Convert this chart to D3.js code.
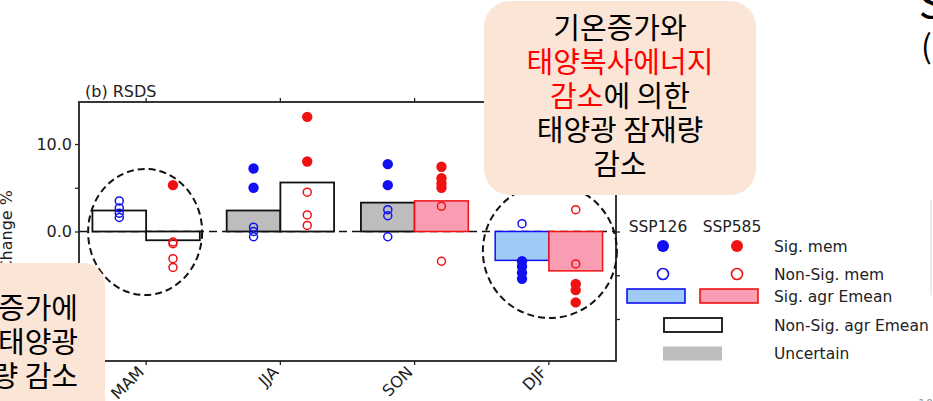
<!DOCTYPE html>
<html><head><meta charset="utf-8">
<script src="https://cdn.jsdelivr.net/npm/d3@7"></script>
<style>
html,body{margin:0;padding:0;background:#fff;overflow:hidden}
svg{display:block}
</style></head><body>
<svg id="chart" width="933" height="401"></svg>
<script>
// Seasonal RSDS change (%) — ensemble means and individual members
const seasons = ["MAM", "JJA", "SON", "DJF"];
const emean126 = [2.4, 2.4, 3.3, -3.3];
const emean585 = [-1.0, 5.6, 3.5, -4.5];
const agree126 = ["nonsig", "uncertain", "uncertain", "sig"];
const agree585 = ["nonsig", "nonsig", "sig", "sig"];
const sigMem126 = [[], [7.2, 5.0], [7.7, 5.3], [-3.4, -4.0, -4.7, -5.4]];
const nonSigMem126 = [[3.5, 2.7, 2.1, 1.6], [0.5, 0.0, -0.6], [2.5, 1.8, -0.6], [0.9]];
const sigMem585 = [[5.3], [13.1, 8.0], [7.4, 6.1, 5.5, 5.0], [-6.0, -6.7, -8.1]];
const nonSigMem585 = [[-1.2, -1.4, -3.1, -4.1], [4.5, 1.9, 0.7], [2.9, -3.4], [2.5, -3.7]];
const yTicks = [-10, -5, 0, 5, 10];
const yLabelled = [0, 10];
const legendRows = ["Sig. mem", "Non-Sig. mem", "Sig. agr Emean", "Non-Sig. agr Emean", "Uncertain"];
const scenarios = ["SSP126", "SSP585"];

const BLUE = "#1010f2", RED = "#f01212";
const barStyle = {
  sig: [{fill: "#9ecbf6", stroke: BLUE}, {fill: "#f99db2", stroke: RED}],
  nonsig: [{fill: "#fff", stroke: "#111"}, {fill: "#fff", stroke: "#111"}],
  uncertain: [{fill: "#bdbdbd", stroke: "#111"}, {fill: "#bdbdbd", stroke: "#111"}]
};

const svg = d3.select("#chart");
const L = 79, R = 616, T = 102, B = 361;
const x = d3.scaleBand().domain(seasons).range([L, R]).padding(0);
const y = d3.scaleLinear().domain([-14.8, 14.8]).range([B, T]);
const bw = x.bandwidth();
const cx = s => x(s) + bw / 2;

const plot = svg.append("g");

// zero reference line
plot.append("line")
  .attr("x1", L).attr("x2", R).attr("y1", y(0)).attr("y2", y(0))
  .attr("stroke", "#111").attr("stroke-width", 1.6).attr("stroke-dasharray", "8,5");

// ensemble-mean bars
function drawBars(vals, status, k) {
  plot.selectAll(null).data(seasons).enter().append("rect")
    .attr("x", s => k === 0 ? cx(s) - 0.4 * bw : cx(s))
    .attr("width", 0.4 * bw)
    .attr("y", (s, i) => y(Math.max(0, vals[i])))
    .attr("height", (s, i) => Math.abs(y(vals[i]) - y(0)))
    .attr("fill", (s, i) => barStyle[status[i]][k].fill)
    .attr("stroke", (s, i) => barStyle[status[i]][k].stroke)
    .attr("stroke-width", (s, i) => status[i] === "sig" ? 1.5 : 1.8);
}
drawBars(emean126, agree126, 0);
drawBars(emean585, agree585, 1);

// individual members
function drawMembers(groups, k, filled, color) {
  const pts = [];
  groups.forEach((g, i) => g.forEach(v => pts.push({s: seasons[i], v})));
  plot.selectAll(null).data(pts).enter().append("circle")
    .attr("cx", d => cx(d.s) + (k === 0 ? -0.2 : 0.2) * bw)
    .attr("cy", d => y(d.v))
    .attr("r", filled ? 5.2 : 4)
    .attr("fill", filled ? color : "none")
    .attr("stroke", color)
    .attr("stroke-width", filled ? 0 : 1.5);
}
drawMembers(nonSigMem126, 0, false, BLUE);
drawMembers(sigMem126, 0, true, BLUE);
drawMembers(nonSigMem585, 1, false, RED);
drawMembers(sigMem585, 1, true, RED);

// axes / spines
const axisColor = "#222";
const yAxis = svg.append("g").attr("transform", `translate(${L},0)`)
  .call(d3.axisLeft(y).tickValues(yTicks).tickSize(4).tickPadding(3)
    .tickFormat(d => yLabelled.includes(d) ? d3.format(".1f")(d) : ""));
const yAxisR = svg.append("g").attr("transform", `translate(${R},0)`)
  .call(d3.axisRight(y).tickValues(yTicks).tickSize(4).tickFormat(""));
const xAxisB = svg.append("g").attr("transform", `translate(0,${B})`)
  .call(d3.axisBottom(x).tickSize(4).tickFormat(""));
const xAxisT = svg.append("g").attr("transform", `translate(0,${T})`)
  .call(d3.axisTop(x).tickSize(4).tickFormat(""));
[yAxis, yAxisR, xAxisB, xAxisT].forEach(g => {
  g.select(".domain").remove();
  g.selectAll(".tick line").attr("stroke", axisColor).attr("stroke-width", 1.3);
  g.selectAll("text").attr("font-family", "DejaVu Sans").attr("font-size", 16).attr("fill", "#222");
});
svg.append("rect").attr("x", L).attr("y", T).attr("width", R - L).attr("height", B - T)
  .attr("fill", "none").attr("stroke", axisColor).attr("stroke-width", 1.8);

// rotated season labels
svg.append("g").selectAll("text").data(seasons).enter().append("text")
  .attr("transform", s => `translate(${cx(s) - 1},${B + 12}) rotate(-45)`)
  .attr("text-anchor", "end")
  .attr("font-family", "DejaVu Sans").attr("font-size", 16).attr("fill", "#222")
  .text(s => s);

svg.append("text").attr("x", 85).attr("y", 97)
  .attr("font-family", "DejaVu Sans").attr("font-size", 16).attr("fill", "#222")
  .text("(b) RSDS");

svg.append("text")
  .attr("transform", "translate(12,190) rotate(-90)")
  .attr("text-anchor", "end")
  .attr("font-family", "DejaVu Sans").attr("font-size", 16).attr("fill", "#222")
  .text("Change %");

// highlighted seasons
const ell = svg.append("g").attr("fill", "none").attr("stroke", "#111")
  .attr("stroke-width", 2).attr("stroke-dasharray", "7,4");

// legend
const lg = svg.append("g").attr("font-family", "DejaVu Sans").attr("fill", "#222");
const lgX = [658, 732], rowY = [246, 274, 296, 325, 353];
lg.selectAll(null).data(scenarios).enter().append("text")
  .attr("x", (d, i) => lgX[i]).attr("y", 232).attr("text-anchor", "middle")
  .attr("font-size", 15.5).text(d => d);
[BLUE, RED].forEach((c, i) => {
  lg.append("circle").attr("cx", lgX[i] + 5).attr("cy", rowY[0]).attr("r", 6).attr("fill", c);
  lg.append("circle").attr("cx", lgX[i] + 5).attr("cy", rowY[1]).attr("r", 5.5)
    .attr("fill", "none").attr("stroke", c).attr("stroke-width", 1.6);
  lg.append("rect").attr("x", [627, 700][i]).attr("y", 289).attr("width", 58).attr("height", 14)
    .attr("fill", barStyle.sig[i].fill).attr("stroke", c).attr("stroke-width", 1.6);
});
lg.append("rect").attr("x", 664).attr("y", 318).attr("width", 58).attr("height", 14)
  .attr("fill", "#fff").attr("stroke", "#111").attr("stroke-width", 1.8);
lg.append("rect").attr("x", 663).attr("y", 346.5).attr("width", 59).attr("height", 14)
  .attr("fill", "#bdbdbd");
lg.selectAll(null).data(legendRows).enter().append("text")
  .attr("x", 774).attr("y", (d, i) => rowY[i] + 6)
  .attr("font-size", 15.5).text(d => d);

// callout boxes
const KR = "'Noto Sans CJK KR', 'Noto Sans', sans-serif";
svg.append("rect").attr("x", 484).attr("y", 1).attr("width", 272).attr("height", 194)
  .attr("rx", 26).attr("fill", "#fbe5d6");
svg.append("rect").attr("x", -40).attr("y", 263).attr("width", 145).attr("height", 180)
  .attr("rx", 22).attr("fill", "#fbe5d6");

ell.append("ellipse").attr("cx", cx("MAM") - 1).attr("cy", 232).attr("rx", 57).attr("ry", 63);
ell.append("ellipse").attr("cx", cx("DJF") + 1).attr("cy", 251).attr("rx", 67).attr("ry", 67);

const rt = svg.append("g").attr("font-family", KR).attr("font-size", 29)
  .attr("font-weight", 400).attr("text-anchor", "middle");
const rLines = [
  [["기온증가와", "#000"]],
  [["태양복사에너지", "#ff0000"]],
  [["감소", "#ff0000"], ["에 의한", "#000"]],
  [["태양광 잠재량", "#000"]],
  [["감소", "#000"]]
];
rLines.forEach((parts, i) => {
  const t = rt.append("text").attr("x", 620).attr("y", 39 + i * 34);
  parts.forEach(p => t.append("tspan").attr("fill", p[1]).text(p[0]));
});
const lt = svg.append("g").attr("font-family", KR).attr("font-size", 29)
  .attr("font-weight", 400).attr("text-anchor", "end").attr("fill", "#000");
["증가에", "태양광", "량 감소"].forEach((s, i) =>
  lt.append("text").attr("x", 78).attr("y", 319 + i * 34).text(s));

// slide fragments at the right edge
svg.append("text").attr("x", 919).attr("y", 18).attr("font-family", KR)
  .attr("font-size", 40).attr("fill", "#000").text("S");
svg.append("text").attr("x", 921).attr("y", 58).attr("font-family", KR)
  .attr("font-size", 32).attr("fill", "#000").text("(");
svg.append("line").attr("x1", 931).attr("x2", 931).attr("y1", 200).attr("y2", 295)
  .attr("stroke", "#e6e6e6").attr("stroke-width", 1.5);
svg.append("text").attr("x", 918).attr("y", 408).attr("font-family", "DejaVu Sans")
  .attr("font-size", 12).attr("fill", "#999").text("10");
</script>
</body></html>
